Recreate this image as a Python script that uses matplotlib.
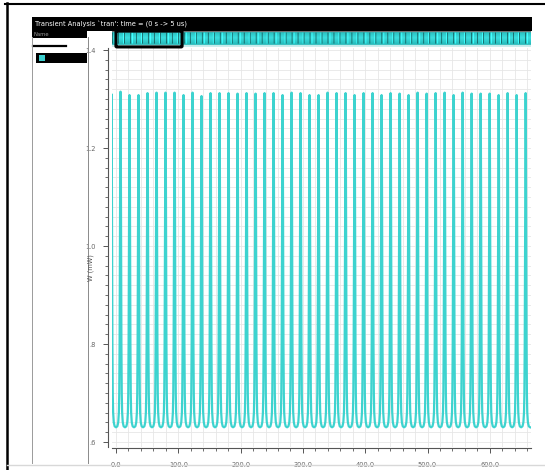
import numpy as np
import matplotlib.pyplot as plt
from matplotlib.patches import Rectangle, FancyBboxPatch
from matplotlib.ticker import MultipleLocator, FixedLocator, FixedFormatter

W, H = 545, 470

# pulse train: peak heights (mW), one entry per pulse, first one is cut by the axis
peaks = [1.310,
         1.315, 1.308, 1.308, 1.312, 1.313, 1.313, 1.313, 1.308, 1.313, 1.306,
         1.312, 1.312, 1.312, 1.311, 1.312, 1.311, 1.312, 1.312, 1.308, 1.313,
         1.312, 1.308, 1.308, 1.313, 1.312, 1.312, 1.308, 1.312, 1.312, 1.308,
         1.312, 1.311, 1.308, 1.313, 1.311, 1.312, 1.313, 1.308, 1.313, 1.311,
         1.311, 1.311, 1.308, 1.312, 1.308, 1.312]
base = 0.630          # valley level (mW)
period = 14.45        # ns
first_peak = -7.2     # ns

# one cycle of the waveform, phase relative to the peak, fraction of peak height
shape_phase = [-0.5, -0.35, -0.25, -0.18, -0.14, -0.10, -0.06, -0.03, 0.0,
               0.03, 0.06, 0.10, 0.14, 0.18, 0.25, 0.35]
shape_frac = [0.0, 0.003, 0.015, 0.045, 0.10, 0.25, 0.55, 0.85, 1.0,
              0.85, 0.55, 0.25, 0.10, 0.045, 0.015, 0.003]

yticks = [0.6, 0.8, 1.0, 1.2, 1.4]
ytick_labels = [".6", ".8", "1.0", "1.2", "1.4"]
xticks = [0, 100, 200, 300, 400, 500, 600]
xtick_labels = ["0.0", "100.0", "200.0", "300.0", "400.0", "500.0", "600.0"]

t, w = [], []
for k, pk in enumerate(peaks):
    tc = first_peak + k * period
    for ph, fr in zip(shape_phase, shape_frac):
        t.append(tc + ph * period)
        w.append(base + fr * (pk - base))
t.append(first_peak + len(peaks) * period - 0.5 * period)
w.append(base)


def fx(x):
    return x / W


def fy(y):
    return 1 - y / H


fig = plt.figure(figsize=(W / 100, H / 100), dpi=100)
fig.patch.set_facecolor("white")


def rect(x0, y0, x1, y1, **kw):
    fig.patches.append(Rectangle((fx(x0), fy(y1)), (x1 - x0) / W, (y1 - y0) / H,
                                 transform=fig.transFigure, **kw))


def hline(x0, x1, y, **kw):
    fig.lines.append(plt.Line2D([fx(x0), fx(x1)], [fy(y), fy(y)],
                                transform=fig.transFigure, **kw))


def vline(x, y0, y1, **kw):
    fig.lines.append(plt.Line2D([fx(x), fx(x)], [fy(y0), fy(y1)],
                                transform=fig.transFigure, **kw))


# window frame
hline(5, 545, 3.5, color="black", lw=1.5)
vline(6.5, 3, 470, color="black", lw=1.8)
hline(7, 545, 465, color="#d8d8d8", lw=1.0)

# title bar and name column
rect(32, 17, 532, 31, color="black", lw=0)
rect(32, 31, 87, 37.5, color="black", lw=0)
fig.text(fx(35), fy(24), "Transient Analysis `tran': time = (0 s -> 5 us)",
         color="white", fontsize=4.8, va="center", ha="left")
fig.text(fx(34), fy(34.5), "Name", color="#9a9a9a", fontsize=3.8, va="center", ha="left")
hline(33, 66, 45.5, color="black", lw=1.6)
rect(36, 53, 87, 63, color="black", lw=0)
rect(39, 55, 45, 61, color="#3ccfcf", lw=0)
vline(31.5, 37, 463, color="#9a9a9a", lw=0.7)
vline(87.5, 37, 463, color="#8a8a8a", lw=0.7)

# main plot
ax = fig.add_axes([fx(112), fy(447), (531 - 112) / W, (447 - 48) / H])
ax.plot(t, w, color="#3dd3cf", lw=1.6, solid_joinstyle="round")
ax.set_xlim(-6.4, 666.1)
ax.set_ylim(0.5898, 1.4041)
ax.set_facecolor("white")
ax.xaxis.set_major_locator(FixedLocator(xticks))
ax.xaxis.set_major_formatter(FixedFormatter(xtick_labels))
ax.xaxis.set_minor_locator(MultipleLocator(20))
ax.yaxis.set_major_locator(FixedLocator(yticks))
ax.yaxis.set_major_formatter(FixedFormatter(ytick_labels))
ax.yaxis.set_minor_locator(MultipleLocator(0.02))
ax.grid(which="both", color="#e6e6e6", lw=0.6)
ax.set_axisbelow(True)
for s in ("top", "right"):
    ax.spines[s].set_visible(False)
ax.spines["left"].set_position(("outward", 3))
ax.spines["bottom"].set_position(("outward", 1))
for s in ("left", "bottom"):
    ax.spines[s].set_color("#555555")
    ax.spines[s].set_linewidth(0.8)
ax.tick_params(which="major", length=3.5, width=0.7, color="#555555",
               labelsize=4.8, labelcolor="#666666", pad=5)
ax.tick_params(which="minor", length=2.0, width=0.6, color="#555555")
ax.tick_params(axis="x", pad=6)
fig.text(fx(91), fy(268), "W (mW)", rotation=90, fontsize=4.8, color="#555555",
         ha="center", va="center")

# overview strip across the top of the plot
strip = fig.add_axes([fx(112), fy(47.5), (531 - 112) / W, 16.5 / H])
band = np.linspace(0, 1, 40)
bright = 1 - np.abs(band - 0.45) * 1.4
col = np.array([0.08, 0.62, 0.62]) + np.outer(bright, [0.15, 0.25, 0.25])
img = np.repeat(col[:, None, :], 420, axis=1)
img[6:-8, ::6, :] *= 0.55
img[6:-8, 2::9, :] = np.clip(img[6:-8, 2::9, :] * 1.3, 0, 1)
img[:5] = [0.45, 0.45, 0.45]
img[-5:] = [0.8, 0.93, 0.93]
strip.imshow(np.clip(img, 0, 1), aspect="auto", extent=(0, 1, 0, 1))
strip.set_axis_off()
fig.patches.append(FancyBboxPatch((fx(117), fy(46)), (181 - 117) / W, 14 / H,
                                  boxstyle="round,pad=0.002", transform=fig.transFigure,
                                  fill=False, ec="black", lw=2.2))

fig.savefig("out.png", dpi=100)
